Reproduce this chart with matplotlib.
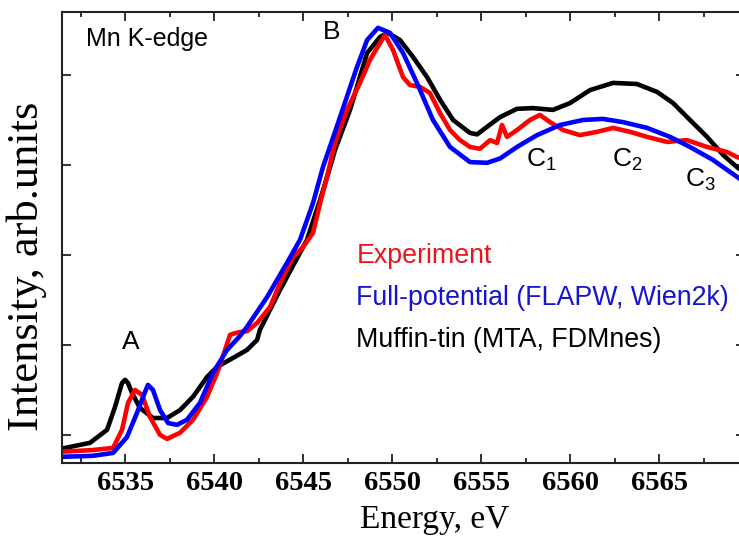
import numpy as np
import matplotlib
matplotlib.use('Agg')
import matplotlib.pyplot as plt
from matplotlib.ticker import MultipleLocator

plt.rcParams.update({'mathtext.fontset': 'custom', 'mathtext.rm': 'Liberation Sans'})

# Mn K-edge XANES (energy in eV, intensity arb. units)
exp_energy = [6531.35, 6533.2, 6534.33, 6534.83, 6535.17, 6535.56, 6535.96, 6536.4,
              6536.97, 6537.36, 6538.09, 6538.82, 6539.61, 6540.17, 6540.62, 6540.9,
              6541.07, 6541.46, 6541.85, 6542.42, 6543.15, 6543.71, 6544.44, 6545.0,
              6545.56, 6545.96, 6546.35, 6546.69, 6546.91, 6547.47, 6548.2, 6548.76,
              6549.33, 6549.61, 6550.06, 6550.62, 6551.01, 6551.57, 6552.13, 6552.7,
              6553.26, 6553.82, 6554.38, 6554.94, 6555.51, 6555.9, 6556.18, 6556.46,
              6557.02, 6557.75, 6558.31, 6558.88, 6559.61, 6560.56, 6561.52, 6562.42,
              6563.37, 6564.33, 6565.45, 6566.57, 6567.7, 6568.82, 6569.38, 6569.9]
exp_intensity = [-0.047, -0.042, -0.036, 0.014, 0.089, 0.125, 0.111, 0.05,
                 0.0, -0.011, 0.006, 0.042, 0.106, 0.172, 0.236, 0.278,
                 0.281, 0.286, 0.288, 0.311, 0.356, 0.422, 0.494, 0.522,
                 0.561, 0.644, 0.717, 0.79, 0.828, 0.903, 0.978, 1.042,
                 1.089, 1.111, 1.069, 0.994, 0.972, 0.967, 0.95, 0.894,
                 0.847, 0.819, 0.8, 0.795, 0.819, 0.811, 0.861, 0.828,
                 0.847, 0.875, 0.889, 0.869, 0.847, 0.833, 0.842, 0.853,
                 0.842, 0.828, 0.814, 0.819, 0.8, 0.786, 0.772, 0.765]

flapw_energy = [6531.35, 6533.2, 6534.33, 6535.11, 6535.67, 6536.12, 6536.29, 6536.57,
                6536.97, 6537.42, 6537.92, 6538.48, 6539.21, 6539.94, 6540.73, 6541.46,
                6541.85, 6542.98, 6544.1, 6544.83, 6545.56, 6546.12, 6547.08, 6548.03,
                6548.6, 6549.21, 6549.89, 6550.62, 6551.4, 6552.3, 6553.26, 6554.38,
                6555.34, 6556.07, 6557.02, 6558.15, 6559.44, 6560.73, 6561.85, 6562.98,
                6564.33, 6565.62, 6566.74, 6568.03, 6569.38, 6569.9]
flapw_intensity = [-0.061, -0.058, -0.05, -0.006, 0.061, 0.119, 0.139, 0.125,
                   0.069, 0.033, 0.028, 0.042, 0.089, 0.172, 0.236, 0.275,
                   0.3, 0.383, 0.478, 0.542, 0.644, 0.744, 0.883, 1.022,
                   1.097, 1.131, 1.117, 1.061, 0.978, 0.875, 0.8, 0.758,
                   0.756, 0.768, 0.8, 0.833, 0.861, 0.875, 0.878, 0.869,
                   0.853, 0.828, 0.8, 0.764, 0.717, 0.7]

mta_energy = [6531.35, 6533.03, 6533.99, 6534.44, 6534.7, 6534.83, 6535.0, 6535.17,
              6535.39, 6535.84, 6536.57, 6537.36, 6538.09, 6538.82, 6539.61, 6540.17,
              6541.07, 6541.85, 6542.42, 6542.58, 6543.71, 6545.22, 6545.96, 6546.52,
              6546.8, 6547.64, 6548.6, 6549.33, 6549.78, 6550.45, 6551.18, 6551.97,
              6552.7, 6553.43, 6554.38, 6554.78, 6555.34, 6556.07, 6557.02, 6557.92,
              6559.04, 6560.0, 6561.12, 6562.42, 6563.76, 6564.89, 6565.79, 6566.74,
              6567.7, 6568.6, 6569.38, 6569.9]
mta_intensity = [-0.039, -0.022, 0.014, 0.078, 0.122, 0.144, 0.153, 0.144,
                 0.117, 0.075, 0.047, 0.047, 0.069, 0.106, 0.161, 0.189,
                 0.214, 0.236, 0.264, 0.292, 0.403, 0.542, 0.653, 0.744,
                 0.792, 0.903, 1.061, 1.106, 1.117, 1.097, 1.05, 0.994,
                 0.931, 0.875, 0.839, 0.835, 0.856, 0.883, 0.906, 0.908,
                 0.903, 0.922, 0.958, 0.978, 0.975, 0.953, 0.922, 0.875,
                 0.828, 0.778, 0.744, 0.725]

x_ticks = [6535, 6540, 6545, 6550, 6555, 6560, 6565]
y_ticks = [0.0, 0.25, 0.5, 0.75, 1.0]

# feature labels: (text, energy, intensity)
features = [('A', 6535.34, 0.258),
            ('B', 6546.63, 1.119),
            (r'$\mathregular{C_1}$', 6558.4, 0.764),
            (r'$\mathregular{C_2}$', 6563.2, 0.764),
            (r'$\mathregular{C_3}$', 6567.3, 0.708)]

legend_items = [('Experiment', '#e8161b'),
                ('Full-potential (FLAPW, Wien2k)', '#1414d2'),
                ('Muffin-tin (MTA, FDMnes)', 'black')]

W, H = 739, 537
fig = plt.figure(figsize=(W / 100, H / 100), dpi=100)
ax = fig.add_axes([62 / W, (H - 463) / H, (745 - 62) / W, (463 - 12) / H])

ax.plot(mta_energy, mta_intensity, color='black', lw=3.3)
ax.plot(exp_energy, exp_intensity, color='#ff0000', lw=3.3)
ax.plot(flapw_energy, flapw_intensity, color='#0000ff', lw=3.3)

ax.set_xlim(6531.46, 6569.83)
ax.set_ylim(-0.078, 1.175)
ax.set_xticks(x_ticks)
ax.set_yticks(y_ticks)
ax.set_yticklabels([])
ax.xaxis.set_minor_locator(MultipleLocator(2.5))
ax.tick_params(which='both', direction='in', top=True, right=True, width=1.3,
               colors='#222222', labelcolor='black')
ax.tick_params(which='major', length=6.5, pad=6)
ax.tick_params(which='minor', length=3.5)
for lab in ax.get_xticklabels():
    lab.set_fontfamily('Liberation Serif')
    lab.set_fontweight('bold')
    lab.set_fontsize(20.5)
for sp in ax.spines.values():
    sp.set_linewidth(1.5)
    sp.set_color('#222222')

ax.set_xlabel('Energy, eV', family='Liberation Serif', fontsize=24)
ax.xaxis.set_label_coords((435 - 62) / (745 - 62), -0.093)
ax.set_ylabel('Intensity, arb.units', family='Liberation Serif', fontsize=32)
ax.yaxis.set_label_coords(-0.022, (463 - 266) / 451)

ax.text(0.035, 0.94, 'Mn K-edge', transform=ax.transAxes, family='Liberation Sans',
        fontsize=18, va='center', ha='left')

for txt, e, v in features:
    ax.text(e, v, txt, family='Liberation Sans', fontsize=19, ha='center', va='center')

# keep the long legend line just inside the right edge
for i, (txt, col) in enumerate(legend_items):
    ax.text(6548.0, 0.497 - i * 0.117, txt, color=col, family='Liberation Sans',
            fontsize=19.3, ha='left', va='center')

fig.savefig('out.png', dpi=100)
